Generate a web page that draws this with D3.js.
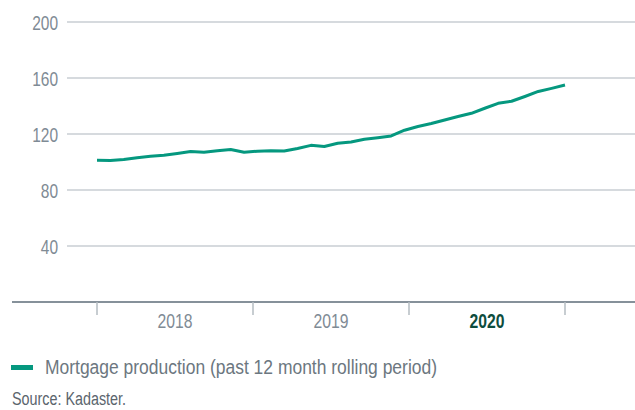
<!DOCTYPE html>
<html>
<head>
<meta charset="utf-8">
<script src="https://cdn.jsdelivr.net/npm/d3@7"></script>
<style>
  body { margin: 0; background: #fff; }
  svg { display: block; font-family: "Liberation Sans Narrow", "Arial Narrow", "Liberation Sans", sans-serif; }
</style>
</head>
<body>
<svg id="chart" width="635" height="410"></svg>
<script>
"use strict";

// monthly values jan 2018 - dec 2020
var months = d3.range(36);
var values = [101.2, 101.0, 101.8, 103.1, 104.1, 104.9, 106.1, 107.5, 106.9, 108.0, 108.9, 106.9,
  107.7, 108.1, 107.9, 109.7, 111.9, 111.1, 113.4, 114.3, 116.3, 117.4, 118.6, 122.7,
  125.4, 127.5, 130.0, 132.5, 134.8, 138.4, 141.9, 143.4, 146.8, 150.4, 152.6, 155.0];
var years = ["2018", "2019", "2020"];
var yTicks = [40, 80, 120, 160, 200];
var seriesName = "Mortgage production (past 12 month rolling period)";
var source = "Source: Kadaster.";

var svg = d3.select("#chart");

var x = d3.scaleLinear().domain([0, 35]).range([97, 565]);
var xYear = d3.scaleBand().domain(years).range([97, 565]);
var y = d3.scaleLinear().domain([0, 200]).range([302, 22]);

// the reference font is condensed, squeeze the glyphs to its widths
var squeeze = function squeeze(sel, width) {
  sel.attr("textLength", width).attr("lengthAdjust", "spacingAndGlyphs");
};

// gridlines
svg.append("g").selectAll("line").data(yTicks).enter().append("line")
  .attr("x1", 67).attr("x2", 635)
  .attr("y1", function (d) { return y(d); }).attr("y2", function (d) { return y(d); })
  .attr("stroke", "#c9ced3").attr("stroke-width", 1.5);

svg.append("g").selectAll("text").data(yTicks).enter().append("text")
  .attr("x", 58).attr("y", function (d) { return y(d) + 7.5; })
  .attr("text-anchor", "end").attr("font-size", 20).attr("fill", "#7f8b95")
  .text(function (d) { return d; })
  .call(squeeze, function (d) { return String(d).length * 8.6; });

// x axis
svg.append("line").attr("x1", 12).attr("x2", 635).attr("y1", 302).attr("y2", 302)
  .attr("stroke", "#86919a").attr("stroke-width", 2);

var bounds = years.map(function (d) { return xYear(d); }).concat([xYear.range()[1]]);
svg.append("g").selectAll("line").data(bounds).enter().append("line")
  .attr("x1", function (d) { return d; }).attr("x2", function (d) { return d; })
  .attr("y1", 302).attr("y2", 315)
  .attr("stroke", "#b4bcc2").attr("stroke-width", 1.5);

svg.append("g").selectAll("text").data(years).enter().append("text")
  .attr("x", function (d) { return xYear(d) + xYear.bandwidth() / 2; })
  .attr("y", 328)
  .attr("text-anchor", "middle").attr("font-size", 20)
  .attr("font-weight", function (d) { return d === "2020" ? "bold" : "normal"; })
  .attr("fill", function (d) { return d === "2020" ? "#0e4d3d" : "#7f8b95"; })
  .text(function (d) { return d; })
  .call(squeeze, 35);

// line
var line = d3.line()
  .x(function (d) { return x(d); })
  .y(function (d, i) { return y(values[i]); });

svg.append("path").datum(months)
  .attr("d", line)
  .attr("fill", "none").attr("stroke", "#05987f").attr("stroke-width", 3)
  .attr("stroke-linejoin", "round");

// legend
svg.append("rect").attr("x", 11).attr("y", 365).attr("width", 22).attr("height", 5).attr("fill", "#05987f");
svg.append("text").attr("x", 45).attr("y", 374).attr("font-size", 20).attr("fill", "#6c7780")
  .text(seriesName)
  .call(squeeze, 392);

svg.append("text").attr("x", 12).attr("y", 405).attr("font-size", 18).attr("fill", "#5b656d")
  .text(source)
  .call(squeeze, 114);
</script>
</body>
</html>
